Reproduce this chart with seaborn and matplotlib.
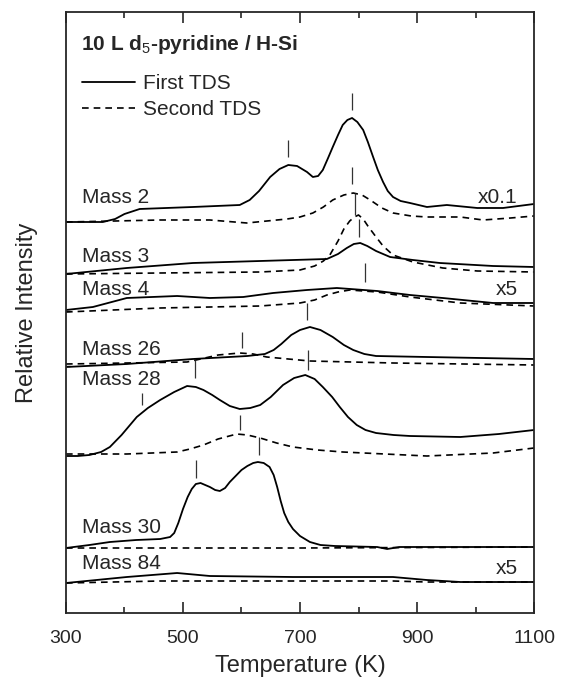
import numpy as np
import pandas as pd
import matplotlib
matplotlib.use('Agg')
import matplotlib.pyplot as plt
from matplotlib.lines import Line2D
import seaborn as sns

sns.set_style('ticks')
plt.rcParams['font.family'] = ['Liberation Sans', 'DejaVu Sans']
plt.rcParams['mathtext.fontset'] = 'custom'
plt.rcParams['mathtext.rm'] = 'Liberation Sans'
plt.rcParams['mathtext.bf'] = 'Liberation Sans:bold'

# stacked TDS traces (temperature in K, offset intensity in arbitrary units)
t_m2_first = [300, 363, 384, 400, 426, 517, 597, 614, 630, 649, 665, 680, 695, 712, 722, 731, 739, 748, 756, 765, 773, 781, 789, 798, 808, 816, 825, 833, 842, 850, 859, 872, 888, 917, 951, 1003, 1047, 1100]
i_m2_first = [391, 391, 394, 399, 404, 406, 408, 413, 422, 436, 444, 448, 447, 441, 436, 437, 443, 455, 466, 478, 488, 493, 495, 491, 483, 471, 456, 443, 431, 422, 416, 412, 410, 406, 408, 405, 405, 409]
t_m2_second = [300, 384, 461, 546, 609, 678, 700, 722, 740, 756, 775, 791, 806, 820, 840, 859, 890, 917, 974, 1013, 1060, 1100]
i_m2_second = [391, 392, 393, 393, 390, 394, 396, 400, 406, 413, 418, 420, 418, 413, 405, 400, 397, 396, 396, 393, 395, 397]

t_m3_first = [300, 404, 517, 632, 746, 765, 780, 792, 803, 815, 830, 854, 893, 939, 1030, 1100]
i_m3_first = [339, 345, 350, 352, 354, 359, 365, 369, 370, 367, 362, 356, 353, 350, 347, 346]
t_m3_second = [300, 461, 632, 700, 725, 740, 751, 765, 775, 785, 793, 800, 808, 816, 830, 842, 859, 893, 944, 1003, 1100]
i_m3_second = [339, 340, 341, 343, 347, 352, 358, 372, 384, 392, 396, 398, 394, 387, 376, 367, 358, 351, 345, 342, 341]

t_m4_first = [300, 346, 404, 490, 546, 603, 654, 712, 763, 832, 888, 944, 1030, 1100]
i_m4_first = [303, 306, 315, 317, 315, 316, 320, 323, 325, 322, 318, 315, 310, 310]
t_m4_second = [300, 461, 632, 700, 725, 746, 765, 785, 832, 888, 974, 1100]
i_m4_second = [301, 305, 307, 310, 313, 318, 321, 323, 321, 316, 310, 307]

t_m26_first = [300, 404, 517, 610, 640, 655, 668, 685, 700, 717, 735, 756, 775, 791, 810, 830, 917, 1100]
i_m26_first = [246, 249, 254, 257, 259, 263, 269, 278, 283, 286, 283, 276, 268, 263, 259, 257, 256, 254]
t_m26_second = [300, 404, 507, 530, 560, 597, 620, 643, 717, 859, 1100]
i_m26_second = [249, 250, 251, 254, 258, 260, 259, 256, 252, 250, 248]

t_m28_first = [300, 320, 340, 360, 375, 395, 421, 440, 461, 485, 507, 522, 535, 550, 563, 580, 597, 615, 632, 650, 671, 690, 709, 725, 739, 755, 768, 782, 797, 812, 830, 860, 888, 974, 1040, 1100]
i_m28_first = [157, 157, 158, 161, 166, 178, 196, 205, 213, 221, 227, 226, 223, 218, 213, 207, 204, 205, 208, 216, 228, 235, 238, 234, 226, 216, 206, 196, 188, 183, 180, 178, 177, 176, 179, 183]
t_m28_second = [300, 404, 490, 512, 535, 560, 592, 610, 632, 660, 688, 730, 773, 917, 1030, 1100]
i_m28_second = [159, 159, 161, 164, 168, 174, 179, 178, 175, 170, 166, 163, 161, 157, 160, 165]

t_m30_first = [300, 340, 375, 420, 461, 478, 485, 492, 500, 508, 515, 522, 530, 538, 546, 555, 563, 572, 580, 590, 600, 610, 620, 628, 638, 648, 655, 661, 667, 673, 680, 688, 700, 717, 735, 760, 832, 849, 870, 1100]
i_m30_first = [65, 68, 71, 73, 74, 76, 80, 90, 104, 116, 124, 129, 130, 128, 126, 123, 122, 125, 131, 137, 143, 147, 150, 151, 150, 146, 138, 126, 112, 100, 91, 84, 77, 71, 68, 67, 66, 64, 66, 66]
t_m30_second = [300, 700, 1100]
i_m30_second = [65, 65, 66]

t_m84_first = [300, 404, 490, 546, 688, 859, 917, 974, 1100]
i_m84_first = [30, 36, 40, 37, 36, 36, 33, 31, 31]
t_m84_second = [300, 461, 688, 859, 917, 1100]
i_m84_second = [30, 32, 32, 32, 31, 31]

# peak markers: temperature, bottom, top
mark_t = [679, 789, 789, 794, 801, 811, 712, 601, 521, 714, 430, 597, 630, 522]
mark_lo = [456, 503, 429, 398, 376, 331, 293, 265, 235, 243, 208, 183, 158, 135]
mark_hi = [473, 520, 446, 420, 394, 350, 310, 281, 253, 263, 220, 198, 176, 153]

# label positions
labels = ['Mass 2', 'Mass 3', 'Mass 4', 'Mass 26', 'Mass 28', 'Mass 30', 'Mass 84']
label_y = [415, 356, 323, 263, 233, 86, 50]
scale_txt = ['x0.1', 'x5', 'x5']
scale_y = [415, 323, 45]

x_major = [300, 500, 700, 900, 1100]
x_minor = [400, 600, 800, 1000]

curves = [
    (t_m2_first, i_m2_first, t_m2_second, i_m2_second),
    (t_m3_first, i_m3_first, t_m3_second, i_m3_second),
    (t_m4_first, i_m4_first, t_m4_second, i_m4_second),
    (t_m26_first, i_m26_first, t_m26_second, i_m26_second),
    (t_m28_first, i_m28_first, t_m28_second, i_m28_second),
    (t_m30_first, i_m30_first, t_m30_second, i_m30_second),
    (t_m84_first, i_m84_first, t_m84_second, i_m84_second),
]

fig = plt.figure(figsize=(5.61, 6.85), dpi=100)
ax = fig.add_axes([0.1176, 0.1051, 0.8343, 0.8774])

for tf, yf, ts, ys in curves:
    sns.lineplot(x=tf, y=yf, ax=ax, color='black', lw=1.3, estimator=None, sort=False)
    sns.lineplot(x=ts, y=ys, ax=ax, color='black', lw=1.2, estimator=None, sort=False,
                 linestyle=(0, (4, 3)))

ax.vlines(mark_t, mark_lo, mark_hi, color='#333333', lw=0.9)

for lab, yy in zip(labels, label_y):
    ax.text(327, yy, lab, fontsize=15, ha='left', va='center')
for txt, yy in zip(scale_txt, scale_y):
    ax.text(1072, yy, txt, fontsize=15, ha='right', va='center')

ax.text(326, 568, r'10 L d$_5$-pyridine / H-Si', fontsize=15, fontweight='bold',
        ha='left', va='center')

handles = [Line2D([], [], color='black', lw=1.3),
           Line2D([], [], color='black', lw=1.2, linestyle=(0, (4, 3)))]
ax.legend(handles, ['First TDS', 'Second TDS'], loc='upper left',
          bbox_to_anchor=(0.034, 0.897), frameon=False, fontsize=15,
          handlelength=2.55, handletextpad=0.4, borderpad=0, borderaxespad=0,
          labelspacing=0.36)

ax.set_xlim(300, 1100)
ax.set_ylim(0, 601)
ax.set_xticks(x_major)
ax.set_xticks(x_minor, minor=True)
ax.set_yticks([247, 302, 340])
ax.set_yticklabels([])
ax.tick_params(axis='x', which='major', direction='in', top=True, length=8, width=1.2,
               labelsize=14, pad=12)
ax.tick_params(axis='x', which='minor', direction='in', top=True, length=4.5, width=1.2)
ax.tick_params(axis='y', direction='in', length=3, width=1)
for s in ax.spines.values():
    s.set_linewidth(1.3)

ax.set_xlabel('Temperature (K)', fontsize=17, labelpad=6)
ax.set_ylabel('Relative Intensity', fontsize=17, labelpad=17)

fig.savefig('out.png', dpi=100)
